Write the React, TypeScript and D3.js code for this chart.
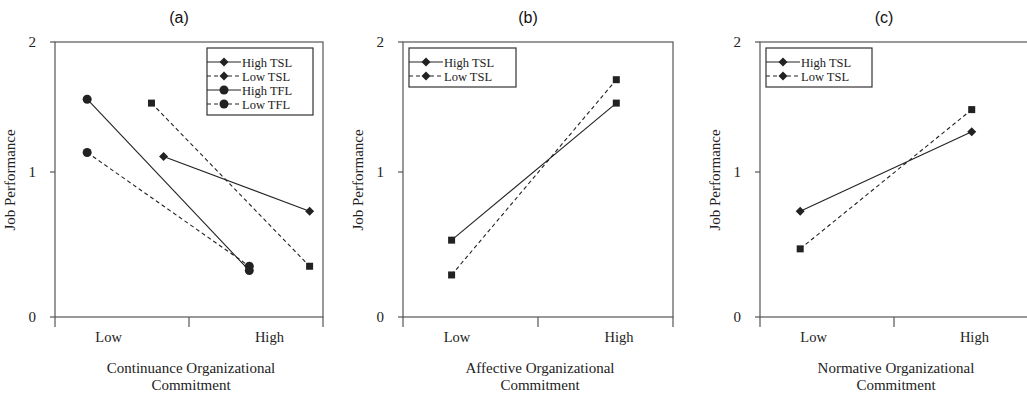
import * as d3 from 'd3'

// category labels + y ticks
const categories = ['Low', 'High']
const categoryAt = [0.4, 1.6]
const yTicks = [0, 1, 2]
const xTicks = [0, 1, 2]

// panel (a)
const aHighTSL = [1.12, 0.73]
const aLowTSL = [1.53, 0.35]
const aHighTFL = [1.56, 0.32]
const aLowTFL = [1.15, 0.35]
const aHighTSLx = [0.81, 1.9]
const aLowTSLx = [0.72, 1.9]
const aTFLx = [0.24, 1.45]

// panel (b)
const bHighTSL = [0.53, 1.53]
const bLowTSL = [0.29, 1.71]
const bx = [0.36, 1.58]

// panel (c)
const cHighTSL = [0.73, 1.31]
const cLowTSL = [0.47, 1.48]
const cx = [0.3, 1.58]

const INK = '#222'
const FRAME = '#555'
const serif = '"Liberation Serif", "Times New Roman", serif'

type Marker = 'diamond' | 'square' | 'circle'
type Series = { xs: number[]; ys: number[]; dashed: boolean; marker: Marker }
type LegendItem = { label: string; dashed: boolean; marker: Marker }

const MarkerShape = ({ x, y, kind }: { x: number; y: number; kind: Marker }) => {
  if (kind === 'circle') return <circle cx={x} cy={y} r={4.5} fill={INK} />
  if (kind === 'square') return <rect x={x - 3.5} y={y - 3.5} width={7} height={7} fill={INK} />
  return <path d={`M${x},${y - 4.5}L${x + 4.5},${y}L${x},${y + 4.5}L${x - 4.5},${y}Z`} fill={INK} />
}

const Panel = ({
  left,
  right,
  title,
  xTitle,
  series,
  legend,
  legendX,
  legendW,
}: {
  left: number
  right: number
  title: string
  xTitle: string[]
  series: Series[]
  legend: LegendItem[]
  legendX: number
  legendW: number
}) => {
  const top = 42
  const bottom = 317
  const x = d3.scaleLinear().domain([0, 2]).range([left, right])
  const y = d3.scaleLinear().domain([0, 1, 2]).range([bottom, 172, top])
  const line = d3
    .line<[number, number]>()
    .x((d) => x(d[0]))
    .y((d) => y(d[1]))
  const midX = (left + right) / 2

  return (
    <g>
      <text x={midX - 10} y={23} textAnchor="middle" fontFamily='"Liberation Sans", Arial, sans-serif' fontSize={16} fill="#111">
        {title}
      </text>
      <rect x={left} y={top} width={right - left} height={bottom - top} fill="none" stroke={FRAME} strokeWidth={1.2} />
      {yTicks.map((t) => (
        <g key={t}>
          <line x1={left - 5} x2={left} y1={y(t)} y2={y(t)} stroke={FRAME} strokeWidth={1.2} />
          <text x={left - 19} y={y(t) + 5} textAnchor="end" fontFamily={serif} fontSize={15} fill="#222">
            {t}
          </text>
        </g>
      ))}
      {xTicks.map((t) => (
        <line key={t} x1={x(t)} x2={x(t)} y1={bottom} y2={bottom + 10} stroke={FRAME} strokeWidth={1.2} />
      ))}
      {categories.map((c, i) => (
        <text key={c} x={x(categoryAt[i])} y={342} textAnchor="middle" fontFamily={serif} fontSize={14.5} fill="#222">
          {c}
        </text>
      ))}
      {xTitle.map((t, i) => (
        <text key={t} x={midX + 2} y={373 + i * 17} textAnchor="middle" fontFamily={serif} fontSize={15} fill="#222">
          {t}
        </text>
      ))}
      <text
        transform={`translate(${left - 40},180) rotate(-90)`}
        textAnchor="middle"
        fontFamily={serif}
        fontSize={15}
        fill="#222"
      >
        Job Performance
      </text>
      {series.map((s, i) => {
        const pts = s.xs.map((v, j) => [v, s.ys[j]] as [number, number])
        return (
          <g key={i}>
            <path d={line(pts) ?? ''} fill="none" stroke={INK} strokeWidth={1.1} strokeDasharray={s.dashed ? '4,3' : undefined} />
            {pts.map((p, j) => (
              <MarkerShape key={j} x={x(p[0])} y={y(p[1])} kind={s.marker} />
            ))}
          </g>
        )
      })}
      <rect x={legendX} y={48} width={legendW} height={legend.length * 14 + 11} fill="#fff" stroke="#333" strokeWidth={1.2} />
      {legend.map((l, i) => {
        const ly = 62 + i * 14
        return (
          <g key={l.label}>
            <line x1={legendX} x2={legendX + 34} y1={ly} y2={ly} stroke={INK} strokeWidth={1} strokeDasharray={l.dashed ? '4,3' : undefined} />
            <MarkerShape x={legendX + 17} y={ly} kind={l.marker} />
            <text x={legendX + 35} y={ly + 4.5} fontFamily={serif} fontSize={12.5} fill="#222">
              {l.label}
            </text>
          </g>
        )
      })}
    </g>
  )
}

const App = () => {
  const tslLegend: LegendItem[] = [
    { label: 'High TSL', dashed: false, marker: 'diamond' },
    { label: 'Low TSL', dashed: true, marker: 'diamond' },
  ]
  const aLegend: LegendItem[] = [
    ...tslLegend,
    { label: 'High TFL', dashed: false, marker: 'circle' },
    { label: 'Low TFL', dashed: true, marker: 'circle' },
  ]

  return (
    <svg width={1027} height={396} style={{ position: 'absolute', left: 0, top: 0, background: '#fff' }}>
      <Panel
        left={55}
        right={323}
        title="(a)"
        xTitle={['Continuance Organizational', 'Commitment']}
        series={[
          { xs: aTFLx, ys: aLowTFL, dashed: true, marker: 'circle' },
          { xs: aTFLx, ys: aHighTFL, dashed: false, marker: 'circle' },
          { xs: aLowTSLx, ys: aLowTSL, dashed: true, marker: 'square' },
          { xs: aHighTSLx, ys: aHighTSL, dashed: false, marker: 'diamond' },
        ]}
        legend={aLegend}
        legendX={207}
        legendW={106}
      />
      <Panel
        left={403}
        right={673}
        title="(b)"
        xTitle={['Affective Organizational', 'Commitment']}
        series={[
          { xs: bx, ys: bHighTSL, dashed: false, marker: 'square' },
          { xs: bx, ys: bLowTSL, dashed: true, marker: 'square' },
        ]}
        legend={tslLegend}
        legendX={409}
        legendW={107}
      />
      <Panel
        left={760}
        right={1028}
        title="(c)"
        xTitle={['Normative Organizational', 'Commitment']}
        series={[
          { xs: cx, ys: cHighTSL, dashed: false, marker: 'diamond' },
          { xs: cx, ys: cLowTSL, dashed: true, marker: 'square' },
        ]}
        legend={tslLegend}
        legendX={766}
        legendW={106}
      />
    </svg>
  )
}

export default App
